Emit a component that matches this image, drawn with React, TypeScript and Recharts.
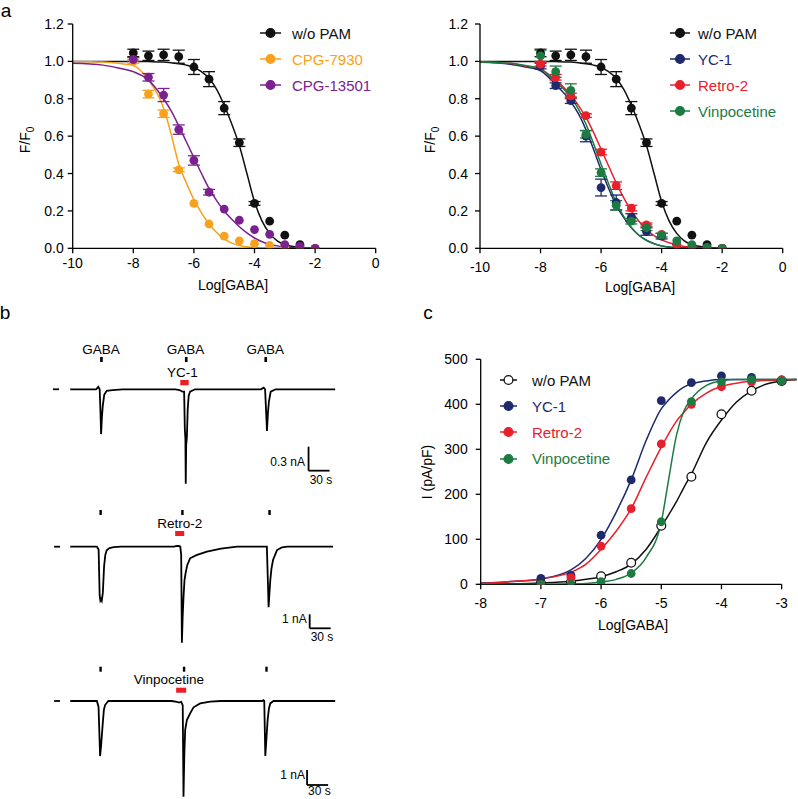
import React from 'react'
import {
  ComposedChart, LineChart, Line, Scatter, ErrorBar,
  XAxis, YAxis, ReferenceLine, ReferenceArea,
} from 'recharts'

const FONT = '"Liberation Sans", Arial, Helvetica, sans-serif'

const C_BLACK = '#111111'
const C_ORANGE = '#f7a11c'
const C_PURPLE = '#7a2190'
const C_NAVY = '#1e2a6c'
const C_RED = '#e8202c'
const C_GREEN = '#1d7b42'

// ---------- panel a: F/F0 vs Log[GABA] ----------
const LOG_A = [-8, -7.5, -7, -6.5, -6, -5.5, -5, -4.5, -4, -3.5, -3, -2.5, -2]
const NOPAM_A = [1.045, 1.03, 1.035, 1.025, 0.97, 0.905, 0.75, 0.565, 0.24, 0.145, 0.07, 0.02, 0]
const NOPAM_ERR = [0.02, 0.025, 0.03, 0.035, 0.04, 0.04, 0.035, 0.02, 0.01, 0, 0, 0, 0]
const CPG7930_A = [1.0, 0.825, 0.72, 0.42, 0.24, 0.13, 0.065, 0.04, 0.025, 0.015, 0.005, 0, 0]
const CPG7930_ERR = [0.01, 0.02, 0.02, 0.01, 0, 0, 0, 0, 0, 0, 0, 0, 0]
const CPG13501_A = [1.01, 0.915, 0.82, 0.635, 0.47, 0.3, 0.21, 0.15, 0.1, 0.075, 0.02, 0.01, 0]
const CPG13501_ERR = [0.01, 0.02, 0.035, 0.025, 0.025, 0.015, 0, 0, 0, 0, 0, 0, 0]
const YC1_A = [0.975, 0.87, 0.79, 0.6, 0.325, 0.245, 0.165, 0.09, 0.065, 0.02, 0.005, 0.005, 0]
const YC1_ERR = [0.015, 0.015, 0.015, 0.03, 0.045, 0.04, 0.02, 0.02, 0.015, 0, 0, 0, 0]
const RETRO_A = [0.985, 0.915, 0.815, 0.71, 0.515, 0.335, 0.215, 0.125, 0.075, 0.02, 0.005, 0, 0]
const RETRO_ERR = [0.01, 0.015, 0.015, 0.01, 0.015, 0.02, 0.015, 0.01, 0, 0, 0, 0, 0]
const VINPO_A = [1.03, 0.945, 0.845, 0.61, 0.405, 0.23, 0.145, 0.11, 0.07, 0.04, 0.02, 0.005, 0]
const VINPO_ERR = [0.03, 0.03, 0.035, 0.02, 0.02, 0.025, 0.015, 0.015, 0.01, 0, 0, 0, 0]

// fitted curves
const FIT_X_A = [-10, -9, -8.5, -8, -7.5, -7, -6.75, -6.5, -6.25, -6, -5.75, -5.5, -5.25, -5, -4.75, -4.5, -4.25, -4, -3.75, -3.5, -3.25, -3, -2.5, -2]
const FIT_NOPAM_A = [1, 1, 1, 1, 0.999, 0.997, 0.993, 0.987, 0.98, 0.968, 0.945, 0.91, 0.85, 0.765, 0.665, 0.55, 0.4, 0.25, 0.145, 0.08, 0.04, 0.02, 0.005, 0]
const FIT_CPG7930_A = [1, 0.997, 0.99, 0.978, 0.9, 0.75, 0.61, 0.45, 0.35, 0.26, 0.19, 0.13, 0.085, 0.05, 0.028, 0.015, 0.008, 0.004, 0.002, 0.001, 0, 0, 0, 0]
const FIT_CPG13501_A = [0.99, 0.98, 0.965, 0.945, 0.9, 0.8, 0.735, 0.655, 0.57, 0.485, 0.4, 0.32, 0.255, 0.2, 0.155, 0.115, 0.082, 0.055, 0.035, 0.022, 0.013, 0.008, 0.002, 0]
const FIT_YC1_A = [0.995, 0.985, 0.97, 0.95, 0.875, 0.785, 0.72, 0.635, 0.53, 0.42, 0.32, 0.23, 0.165, 0.11, 0.07, 0.043, 0.025, 0.013, 0.007, 0.003, 0.001, 0, 0, 0]
const FIT_VINPO_A = [0.997, 0.99, 0.978, 0.96, 0.89, 0.81, 0.745, 0.665, 0.56, 0.45, 0.345, 0.245, 0.17, 0.112, 0.07, 0.042, 0.024, 0.012, 0.006, 0.003, 0.001, 0, 0, 0]
const FIT_RETRO_A = [0.997, 0.99, 0.975, 0.958, 0.9, 0.82, 0.765, 0.7, 0.62, 0.53, 0.44, 0.35, 0.27, 0.2, 0.145, 0.1, 0.068, 0.045, 0.03, 0.018, 0.01, 0.006, 0.001, 0]

const X_TICKS_A = [-10, -8, -6, -4, -2, 0]
const Y_TICKS_A = [0, 0.2, 0.4, 0.6, 0.8, 1.0, 1.2]

// ---------- panel c: I (pA/pF) vs Log[GABA] ----------
const LOG_C = [-7, -6.5, -6, -5.5, -5, -4.5, -4, -3.5, -3]
const NOPAM_C = [3, 5, 18, 48, 130, 239, 378, 430, 452]
const YC1_C = [13, 20, 109, 232, 408, 448, 463, 460, 454]
const RETRO_C = [0, 15, 85, 168, 312, 400, 439, 450, 454]
const VINPO_C = [0, 0, 6, 24, 139, 406, 450, 455, 452]

const FIT_X_C = [-8, -7.5, -7, -6.5, -6.25, -6, -5.75, -5.5, -5.25, -5, -4.875, -4.75, -4.625, -4.5, -4.25, -4, -3.75, -3.5, -3.25, -3, -2.75]
const FIT_NOPAM_C = [0, 1, 3, 7, 11, 17, 28, 45, 78, 128, 155, 183, 215, 245, 315, 365, 405, 430, 445, 452, 455]
const FIT_YC1_C = [3, 6, 12, 32, 58, 100, 160, 232, 320, 390, 410, 426, 438, 445, 452, 455, 455, 455, 455, 455, 455]
const FIT_RETRO_C = [2, 6, 12, 27, 45, 78, 118, 168, 238, 305, 335, 362, 382, 400, 425, 440, 447, 451, 453, 454, 455]
const FIT_VINPO_C = [0, 0, 0, 1, 2, 5, 11, 25, 60, 138, 235, 330, 385, 412, 442, 452, 455, 455, 455, 455, 455]

const X_TICKS_C = [-8, -7, -6, -5, -4, -3]
const Y_TICKS_C = [0, 100, 200, 300, 400, 500]

// ---------- panel b: current traces (time s, current nA) ----------
const YC1_T = [0, 37, 40, 42, 43.2, 44, 45.2, 46.5, 48.5, 52, 60, 75, 150, 156, 160, 162.5, 163.5, 164.3, 164.8, 165.4, 166.4, 167.6, 169, 171, 178, 272, 276, 278, 280.7, 282, 283.5, 286, 293, 378]
const YC1_I = [0, 0, 0.03, 0, -0.3, -0.56, -0.35, -0.2, -0.07, -0.02, -0.01, 0, 0, -0.01, -0.03, -0.03, -0.5, -0.62, -1.18, -0.7, -0.6, -0.25, -0.08, -0.03, 0, 0, 0.02, 0, -0.52, -0.3, -0.15, -0.03, 0, 0]
const RETRO_T = [0, 38, 40.5, 42, 43, 44, 45, 46.5, 48.3, 50, 52, 56, 62, 72, 148, 152, 155, 157, 158.3, 159.3, 160.4, 161.6, 163, 164.5, 167, 171, 180, 195, 215, 238, 278, 280.5, 282, 283, 284, 285.4, 287, 289.3, 295, 302, 310, 375]
const RETRO_I = [0, 0, -0.2, -3.5, -3.85, -3.75, -3.86, -3.3, -1.4, -0.6, -0.25, -0.1, -0.03, 0, 0, 0.05, 0.05, 0, -0.6, -6.86, -5.0, -3.6, -2.4, -1.9, -1.3, -0.83, -0.6, -0.36, -0.14, 0, 0, 0, -2.5, -4.33, -3.5, -2.4, -1.6, -0.95, -0.24, -0.05, 0, 0]
const VINPO_T = [0, 38, 40.4, 42.6, 44, 46.4, 48, 49.7, 54.4, 145, 152, 155, 158.3, 160.5, 161.6, 162.8, 164, 166.4, 171.1, 175.9, 185.4, 199.7, 215, 274, 275.5, 276.8, 278.3, 279.5, 281.6, 283.5, 285.4, 290, 378]
const VINPO_I = [0, 0, -0.4, -3.67, -3.0, -1.49, -0.6, -0.27, 0, 0, -0.05, -0.1, -0.05, -0.3, -6.38, -3.5, -1.93, -1.27, -0.82, -0.42, -0.16, -0.04, 0, 0, 0.05, 0, -3.67, -2.8, -1.27, -0.5, -0.16, 0, 0]

// drug application onsets (s)
const YC1_GABA = [42.6, 163.6, 277]
const RETRO_GABA = [41.6, 158.3, 282.6]
const VINPO_GABA = [41.6, 160.7, 278.3]
const YC1_PAM = [157, 169]
const RETRO_PAM = [149.7, 162.6]
const VINPO_PAM = [151.1, 165.4]

const TICK = { fill: '#000', fontSize: 14, fontFamily: FONT }
const AXIS = { stroke: '#000', strokeWidth: 1.3 }

const pts = (xs: number[], ys: number[], es?: number[]) =>
  xs.map((x, i) => ({ x, y: ys[i], e: es ? es[i] : 0 }))

const trace = (ts: number[], is: number[]) => ts.map((t, i) => ({ t, i: is[i] }))

const dot = (fill: string, stroke = 'none') => (p: any) => (
  <circle cx={p.cx} cy={p.cy} r={4.4} fill={fill} stroke={stroke} strokeWidth={1.3} />
)

function Txt({ x, y, size = 14, color = '#000', align = 'center', rotate = false, children }: any) {
  const tx = align === 'center' ? '-50%' : align === 'right' ? '-100%' : '0'
  return (
    <div
      style={{
        position: 'absolute', left: x, top: y, fontSize: size, color, lineHeight: 1.15,
        whiteSpace: 'nowrap', transform: `translate(${tx}, -50%)${rotate ? ' rotate(-90deg)' : ''}`,
        transformOrigin: rotate ? 'center' : undefined,
      }}
    >
      {children}
    </div>
  )
}

function Legend({ left, top, gap, lineW, textGap, items }: any) {
  return (
    <>
      {items.map((it: any, k: number) => (
        <div key={it.label} style={{ position: 'absolute', left, top: top + k * gap - 9, height: 18, display: 'flex', alignItems: 'center' }}>
          <svg width={lineW} height={16}>
            <line x1={0} y1={8} x2={lineW} y2={8} stroke={it.color} strokeWidth={1.5} />
            <circle cx={lineW / 2} cy={8} r={4.4} fill={it.open ? '#fff' : it.color} stroke={it.color} strokeWidth={1.3} />
          </svg>
          <span style={{ marginLeft: textGap, fontSize: 15, color: it.color, lineHeight: 1 }}>{it.label}</span>
        </div>
      ))}
    </>
  )
}

function DoseA({ left, width, margin, yTickMargin, xTickMargin, fits, sets }: any) {
  return (
    <div style={{ position: 'absolute', left, top: 0 }}>
      <ComposedChart width={width} height={300} margin={margin}>
        <XAxis type="number" dataKey="x" domain={[-10, 0]} ticks={X_TICKS_A} allowDataOverflow
          tick={TICK} tickSize={5} tickMargin={xTickMargin} axisLine={AXIS} tickLine={AXIS} height={30} />
        <YAxis type="number" dataKey="y" domain={[0, 1.2]} ticks={Y_TICKS_A} allowDataOverflow
          tickFormatter={(v: number) => v.toFixed(1)} tick={TICK} tickSize={5} tickMargin={yTickMargin}
          axisLine={AXIS} tickLine={AXIS} width={60} />
        {fits.map((f: any, k: number) => (
          <Line key={'f' + k} data={f.data} dataKey="y" type="monotone" stroke={f.color} strokeWidth={1.5}
            dot={false} isAnimationActive={false} />
        ))}
        {sets.map((s: any, k: number) => (
          <Scatter key={'s' + k} data={s.data} dataKey="y" fill={s.color} shape={dot(s.color)} isAnimationActive={false}>
            <ErrorBar dataKey="e" direction="y" width={6} stroke={s.color} strokeWidth={1.3} />
          </Scatter>
        ))}
      </ComposedChart>
    </div>
  )
}

function Trace({ top, height, data, domainY, gaba, gabaY, gabaW, pam, pamY, dash, bar }: any) {
  return (
    <div style={{ position: 'absolute', left: 45, top }}>
      <LineChart width={300} height={height} data={data} margin={{ top: 0, right: 0, bottom: 0, left: 0 }}>
        <XAxis type="number" dataKey="t" domain={[-36, 392]} hide allowDataOverflow />
        <YAxis type="number" domain={domainY} hide allowDataOverflow />
        {gaba.map((g: number) => (
          <ReferenceArea key={g} x1={g} x2={g + gabaW} y1={gabaY[1]} y2={gabaY[0]} fill="#000" fillOpacity={1} stroke="none" ifOverflow="visible" />
        ))}
        <ReferenceArea x1={pam[0]} x2={pam[1]} y1={pamY[1]} y2={pamY[0]} fill="#ee1c25" fillOpacity={1} stroke="none" ifOverflow="visible" />
        <ReferenceLine segment={[{ x: dash[0], y: 0 }, { x: dash[1], y: 0 }]} stroke="#000" strokeWidth={1.8} ifOverflow="visible" />
        <ReferenceLine segment={[{ x: bar.t, y: bar.top }, { x: bar.t, y: bar.top - bar.nA }]} stroke="#000" strokeWidth={1.8} ifOverflow="visible" />
        <ReferenceLine segment={[{ x: bar.t, y: bar.top - bar.nA }, { x: bar.t + bar.s, y: bar.top - bar.nA }]} stroke="#000" strokeWidth={1.8} ifOverflow="visible" />
        <Line dataKey="i" type="linear" stroke="#000" strokeWidth={1.8} dot={false} isAnimationActive={false} />
      </LineChart>
    </div>
  )
}

export default function App() {
  const blackA = { color: C_BLACK, data: pts(LOG_A, NOPAM_A, NOPAM_ERR) }
  const blackFitA = { color: C_BLACK, data: pts(FIT_X_A, FIT_NOPAM_A) }

  return (
    <div style={{ position: 'absolute', left: 0, top: 0, width: 798, height: 799, background: '#fff', overflow: 'hidden', fontFamily: FONT, color: '#000' }}>
      {/* panel letters */}
      <Txt x={6} y={11} size={19}>a</Txt>
      <Txt x={5} y={313} size={19}>b</Txt>
      <Txt x={428} y={313} size={19}>c</Txt>

      {/* a, left */}
      <DoseA
        left={0} width={400}
        margin={{ top: 24, right: 24.3, bottom: 21.7, left: 12.7 }}
        yTickMargin={4} xTickMargin={5}
        fits={[blackFitA, { color: C_ORANGE, data: pts(FIT_X_A, FIT_CPG7930_A) }, { color: C_PURPLE, data: pts(FIT_X_A, FIT_CPG13501_A) }]}
        sets={[blackA, { color: C_ORANGE, data: pts(LOG_A, CPG7930_A, CPG7930_ERR) }, { color: C_PURPLE, data: pts(LOG_A, CPG13501_A, CPG13501_ERR) }]}
      />
      <Legend left={260} top={33} gap={26} lineW={21} textGap={11}
        items={[{ label: 'w/o PAM', color: C_BLACK }, { label: 'CPG-7930', color: C_ORANGE }, { label: 'CPG-13501', color: C_PURPLE }]} />
      <Txt x={233} y={285}>Log[GABA]</Txt>
      <Txt x={27} y={140} rotate>F/F<sub style={{ fontSize: 10 }}>0</sub></Txt>

      {/* a, right */}
      <DoseA
        left={400} width={398}
        margin={{ top: 24, right: 15.3, bottom: 21.7, left: 20 }}
        yTickMargin={7} xTickMargin={9}
        fits={[blackFitA, { color: C_NAVY, data: pts(FIT_X_A, FIT_YC1_A) }, { color: C_RED, data: pts(FIT_X_A, FIT_RETRO_A) }, { color: C_GREEN, data: pts(FIT_X_A, FIT_VINPO_A) }]}
        sets={[blackA, { color: C_NAVY, data: pts(LOG_A, YC1_A, YC1_ERR) }, { color: C_RED, data: pts(LOG_A, RETRO_A, RETRO_ERR) }, { color: C_GREEN, data: pts(LOG_A, VINPO_A, VINPO_ERR) }]}
      />
      <Legend left={670} top={33} gap={26} lineW={20} textGap={8}
        items={[{ label: 'w/o PAM', color: C_BLACK }, { label: 'YC-1', color: C_NAVY }, { label: 'Retro-2', color: C_RED }, { label: 'Vinpocetine', color: C_GREEN }]} />
      <Txt x={640} y={287}>Log[GABA]</Txt>
      <Txt x={432} y={140} rotate>F/F<sub style={{ fontSize: 10 }}>0</sub></Txt>

      {/* b */}
      <Txt x={101} y={350} size={13.5}>GABA</Txt>
      <Txt x={185.5} y={350} size={13.5}>GABA</Txt>
      <Txt x={265.3} y={350} size={13.5}>GABA</Txt>
      <Txt x={182.5} y={373} size={13.5}>YC-1</Txt>
      <Txt x={179.7} y={524} size={13.5}>Retro-2</Txt>
      <Txt x={168.8} y={680} size={13.5}>Vinpocetine</Txt>
      <Txt x={305} y={462.5} size={12} align="right">0.3 nA</Txt>
      <Txt x={321} y={481} size={12}>30 s</Txt>
      <Txt x={306.7} y={619.5} size={12} align="right">1 nA</Txt>
      <Txt x={322} y={637.5} size={12}>30 s</Txt>
      <Txt x={305} y={775.8} size={12} align="right">1 nA</Txt>
      <Txt x={319.3} y={791.5} size={12}>30 s</Txt>

      <Trace top={340} height={160} data={trace(YC1_T, YC1_I)} domainY={[-1.384, 0.616]}
        gaba={YC1_GABA} gabaY={[0.404, 0.341]} gabaW={3.8} pam={YC1_PAM} pamY={[0.116, 0.05]}
        dash={[-24.6, -16]} bar={{ t: 340, top: -0.7175, nA: 0.3, s: 30 }} />
      <Trace top={500} height={150} data={trace(RETRO_T, RETRO_I)} domainY={[-7.379, 3.336]}
        gaba={RETRO_GABA} gabaY={[2.621, 2.264]} gabaW={3.5} pam={RETRO_PAM} pamY={[1.121, 0.764]}
        dash={[-23, -14.6]} bar={{ t: 341.6, top: -4.83, nA: 1, s: 30 }} />
      <Trace top={655} height={144} data={trace(VINPO_T, VINPO_I)} domainY={[-6.533, 3.067]}
        gaba={VINPO_GABA} gabaY={[2.287, 1.953]} gabaW={3.4} pam={VINPO_PAM} pamY={[0.887, 0.553]}
        dash={[-23, -14.6]} bar={{ t: 337.9, top: -4.6, nA: 1, s: 30 }} />

      {/* c */}
      <div style={{ position: 'absolute', left: 420, top: 300 }}>
        <ComposedChart width={378} height={320} margin={{ top: 59.3, right: 1.3, bottom: 5.7, left: 0.7 }}>
          <XAxis type="number" dataKey="x" domain={[-8, -2.75]} ticks={X_TICKS_C} allowDataOverflow
            tick={TICK} tickSize={5} tickMargin={9} axisLine={false} tickLine={AXIS} height={30} />
          <YAxis type="number" dataKey="y" domain={[0, 500]} ticks={Y_TICKS_C} allowDataOverflow
            tick={TICK} tickSize={5} tickMargin={8} axisLine={AXIS} tickLine={AXIS} width={60} />
          <ReferenceLine segment={[{ x: -8, y: 0 }, { x: -3, y: 0 }]} stroke="#000" strokeWidth={1.3} />
          <Line data={pts(FIT_X_C, FIT_NOPAM_C)} dataKey="y" type="monotone" stroke={C_BLACK} strokeWidth={1.5} dot={false} isAnimationActive={false} />
          <Line data={pts(FIT_X_C, FIT_YC1_C)} dataKey="y" type="monotone" stroke={C_NAVY} strokeWidth={1.5} dot={false} isAnimationActive={false} />
          <Line data={pts(FIT_X_C, FIT_RETRO_C)} dataKey="y" type="monotone" stroke={C_RED} strokeWidth={1.5} dot={false} isAnimationActive={false} />
          <Line data={pts(FIT_X_C, FIT_VINPO_C)} dataKey="y" type="monotone" stroke={C_GREEN} strokeWidth={1.5} dot={false} isAnimationActive={false} />
          <Scatter data={pts(LOG_C, NOPAM_C)} dataKey="y" shape={dot('#fff', C_BLACK)} isAnimationActive={false} />
          <Scatter data={pts(LOG_C, YC1_C)} dataKey="y" shape={dot(C_NAVY)} isAnimationActive={false} />
          <Scatter data={pts(LOG_C, RETRO_C)} dataKey="y" shape={dot(C_RED)} isAnimationActive={false} />
          <Scatter data={pts(LOG_C, VINPO_C)} dataKey="y" shape={dot(C_GREEN)} isAnimationActive={false} />
        </ComposedChart>
      </div>
      <Legend left={500} top={380} gap={26.2} lineW={17} textGap={15}
        items={[{ label: 'w/o PAM', color: C_BLACK, open: true }, { label: 'YC-1', color: C_NAVY }, { label: 'Retro-2', color: C_RED }, { label: 'Vinpocetine', color: C_GREEN }]} />
      <Txt x={633} y={625}>Log[GABA]</Txt>
      <Txt x={427} y={472} rotate>I (pA/pF)</Txt>
    </div>
  )
}
